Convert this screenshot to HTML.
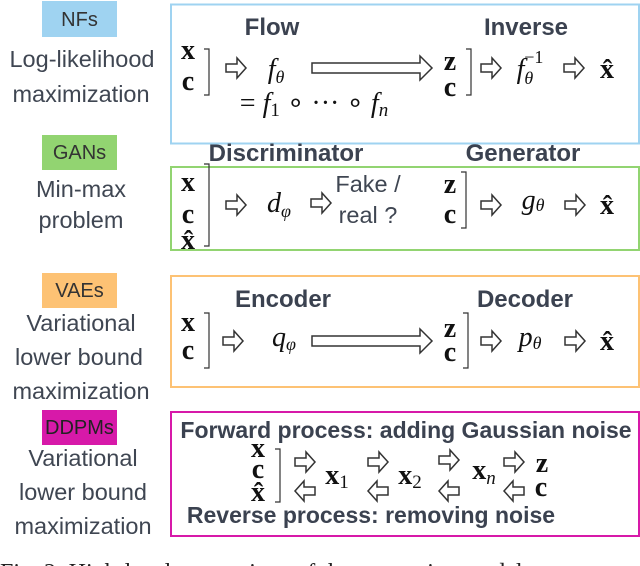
<!DOCTYPE html>
<html><head><meta charset="utf-8"><style>
html,body{margin:0;padding:0;background:#fff;width:640px;height:566px;overflow:hidden}
svg{display:block}
.lab{font-family:"Liberation Sans",sans-serif;font-size:23.5px;fill:#3f4652;text-anchor:middle}
.hd{font-family:"Liberation Sans",sans-serif;font-size:24px;font-weight:bold;fill:#3b4250;text-anchor:middle}
.m{font-family:"Liberation Serif",serif;font-size:28px;fill:#111;text-anchor:middle}
.mb{font-family:"Liberation Serif",serif;font-size:28px;font-weight:bold;fill:#111;text-anchor:middle}
.mi{font-family:"Liberation Serif",serif;font-size:28px;font-style:italic;fill:#111;text-anchor:middle}
.tag{font-family:"Liberation Sans",sans-serif;font-size:20px;fill:#333;text-anchor:middle}
.ar{fill:#fff;stroke:#333;stroke-width:1.5}
.br{fill:none;stroke:#333;stroke-width:1.2}
</style></head><body>
<svg width="640" height="566" viewBox="0 0 640 566" xmlns="http://www.w3.org/2000/svg">
<defs>
<path id="a" class="ar" d="M0,-4 L11,-4 L11,-10 L20,0 L11,10 L11,4 L0,4 Z"/>
<path id="b" class="ar" d="M20,-4 L9,-4 L9,-10 L0,0 L9,10 L9,4 L20,4 Z"/>
</defs>
<rect x="42" y="1" width="75" height="36" fill="#9fd3f1"/><text class="tag" x="79.5" y="26">NFs</text>
<rect x="42" y="135" width="75" height="35" fill="#92d471"/><text class="tag" x="79.5" y="159">GANs</text>
<rect x="42" y="273" width="75" height="35" fill="#fdc274"/><text class="tag" x="79.5" y="297">VAEs</text>
<rect x="42" y="410" width="75" height="35" fill="#d719a9"/><text class="tag" x="79.5" y="434" style="fill:#222">DDPMs</text>
<text class="lab" x="82" y="67">Log-likelihood</text>
<text class="lab" x="81" y="102">maximization</text>
<text class="lab" x="81" y="197">Min-max</text>
<text class="lab" x="81" y="228">problem</text>
<text class="lab" x="81" y="331">Variational</text>
<text class="lab" x="79" y="365">lower bound</text>
<text class="lab" x="81" y="399">maximization</text>
<text class="lab" x="83" y="466">Variational</text>
<text class="lab" x="83" y="500">lower bound</text>
<text class="lab" x="83" y="534">maximization</text>
<rect x="171" y="4.5" width="468" height="139" fill="none" stroke="#9fd3f1" stroke-width="2"/>
<rect x="171" y="167" width="468" height="83" fill="none" stroke="#92d471" stroke-width="2"/>
<rect x="171" y="276" width="468" height="111" fill="none" stroke="#fdc274" stroke-width="2"/>
<rect x="171" y="412" width="468" height="124" fill="none" stroke="#d719a9" stroke-width="2"/>
<!-- NF -->
<text class="hd" x="272" y="35">Flow</text>
<text class="hd" x="526" y="35">Inverse</text>
<text class="mb" x="188" y="59">x</text><text class="mb" x="188" y="90">c</text>
<path class="br" d="M204,49 H209 V95 H204"/>
<use href="#a" x="226" y="68"/>
<text class="mi" x="276" y="78">f<tspan font-size="18" dy="5">θ</tspan></text>
<path class="ar" d="M312,63 L420,63 L420,56 L432,68 L420,80 L420,73 L312,73 Z"/>
<text class="m" x="314" y="112">= <tspan font-style="italic">f</tspan><tspan font-size="19" dy="4">1</tspan><tspan dy="-4"> ∘ ··· ∘ </tspan><tspan font-style="italic">f</tspan><tspan font-size="19" dy="4" font-style="italic">n</tspan></text>
<text class="mb" x="450" y="70">z</text><text class="mb" x="450" y="96">c</text>
<path class="br" d="M466,49 H471 V95 H466"/>
<use href="#a" x="481" y="68"/>
<text class="mi" x="530" y="78">f<tspan font-size="18" dy="6">θ</tspan><tspan font-size="18" font-style="normal" dx="-9" dy="-21">−1</tspan></text>
<use href="#a" x="564" y="68"/>
<text class="mb" x="607" y="78">x̂</text>
<!-- GAN -->
<text class="hd" x="286" y="161">Discriminator</text>
<text class="hd" x="523" y="161">Generator</text>
<text class="mb" x="188" y="191">x</text><text class="mb" x="188" y="223">c</text><text class="mb" x="188" y="249">x̂</text>
<path class="br" d="M204,164 H209 V246 H204"/>
<use href="#a" x="226" y="205"/>
<text class="mi" x="279" y="212">d<tspan font-size="18" dy="5">φ</tspan></text>
<use href="#a" x="311" y="203"/>
<text class="lab" x="368" y="192">Fake /</text>
<text class="lab" x="368" y="223">real ?</text>
<text class="mb" x="450" y="193">z</text><text class="mb" x="450" y="223">c</text>
<path class="br" d="M461,172 H466 V228 H461"/>
<use href="#a" x="481" y="205"/>
<text class="mi" x="533" y="209">g<tspan font-size="18" dy="2">θ</tspan></text>
<use href="#a" x="565" y="205"/>
<text class="mb" x="607" y="214">x̂</text>
<!-- VAE -->
<text class="hd" x="283" y="307">Encoder</text>
<text class="hd" x="525" y="307">Decoder</text>
<text class="mb" x="188" y="331">x</text><text class="mb" x="188" y="359">c</text>
<path class="br" d="M204,313 H209 V368 H204"/>
<use href="#a" x="223" y="341"/>
<text class="mi" x="284" y="346">q<tspan font-size="18" dy="4">φ</tspan></text>
<path class="ar" d="M312,336 L420,336 L420,329 L432,341 L420,353 L420,346 L312,346 Z"/>
<text class="mb" x="450" y="337">z</text><text class="mb" x="450" y="361">c</text>
<path class="br" d="M463,313 H468 V368 H463"/>
<use href="#a" x="481" y="341"/>
<text class="mi" x="530" y="346">p<tspan font-size="18" dy="3">θ</tspan></text>
<use href="#a" x="565" y="341"/>
<text class="mb" x="607" y="350">x̂</text>
<!-- DDPM -->
<text class="hd" x="406" y="438" style="font-size:23px">Forward process: adding Gaussian noise</text>
<text class="mb" x="258" y="457" font-size="23">x</text><text class="mb" x="258" y="478" font-size="23">c</text><text class="mb" x="258" y="501" font-size="23">x̂</text>
<path class="br" d="M275,449 H280 V502 H275"/>
<use href="#a" x="295" y="462"/><use href="#b" x="295" y="491"/>
<text class="mb" x="337" y="484">x<tspan font-weight="normal" font-size="19" dy="4">1</tspan></text>
<use href="#a" x="368" y="462"/><use href="#b" x="368" y="491"/>
<text class="mb" x="410" y="484">x<tspan font-weight="normal" font-size="19" dy="4">2</tspan></text>
<use href="#a" x="439" y="460"/><use href="#b" x="439" y="491"/>
<text class="mb" x="484" y="479">x<tspan font-weight="normal" font-style="italic" font-size="19" dy="5">n</tspan></text>
<use href="#a" x="504" y="462"/><use href="#b" x="504" y="491"/>
<text class="mb" x="542" y="472" font-size="23">z</text><text class="mb" x="541" y="496" font-size="23">c</text>
<text class="hd" x="371" y="523" style="font-size:23px">Reverse process: removing noise</text>
<text x="0" y="580" style="font-family:'Liberation Serif',serif;font-size:24px;fill:#222">Fig. 2: High-level comparison of the generative models</text>
</svg>
</body></html>
